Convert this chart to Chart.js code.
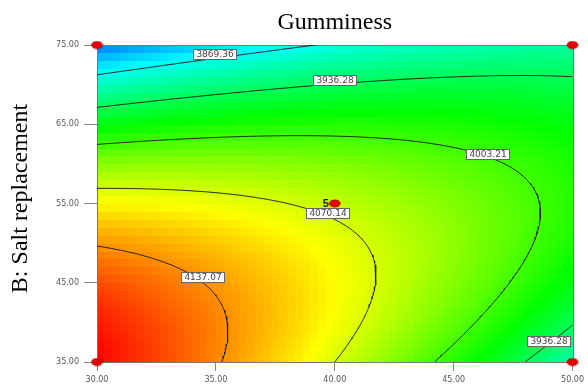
<!DOCTYPE html>
<html>
<head>
<meta charset="utf-8">
<title>Gumminess</title>
<script src="https://cdn.jsdelivr.net/npm/chart.js@4.4.0/dist/chart.umd.min.js"></script>
<style>
  html, body { margin: 0; padding: 0; background: #fff; }
  #wrap { width: 588px; height: 385px; }
</style>
</head>
<body>
<div id="wrap"><canvas id="chart" width="588" height="385"></canvas></div>
<script>
// Factor ranges (actual units)
const rangeA = [30, 50];               // A
const rangeB = [35, 75];               // B: Salt replacement
const tickA = [30, 35, 40, 45, 50];
const tickB = [35, 45, 55, 65, 75];

// Quadratic response model in coded units (-1..+1)
const modelTerms = ['Intercept', 'A', 'B', 'AB', 'A^2', 'B^2'];
const modelCoef  = [4061.1, -49.5, -98.2, 101.2, -20.6, -89.2];

// Response span covered by the colour map (blue .. red)
const colorRange = [3750, 4200];

// Contour levels and where their labels sit (A, B in actual units)
const contourLevels = [3869.36, 3936.28, 4003.21, 4070.14, 4137.07];
const labelLevel = [3869.36, 3936.28, 4003.21, 4070.14, 4137.07, 3936.28];
const labelA     = [34.96, 40.00, 46.46, 39.71, 34.46, 49.00];
const labelB     = [73.86, 70.58, 61.25, 53.80, 45.73, 37.65];

// Design points (factorial corners + replicated centre point)
const designA    = [30, 50, 30, 50, 40];
const designB    = [75, 75, 35, 35, 55];
const designReps = [1, 1, 1, 1, 5];

const chartTitle = 'Gumminess';
const yTitle = 'B: Salt replacement';

function gumminess(A, B) {
  const a = (A - (rangeA[0] + rangeA[1]) / 2) / ((rangeA[1] - rangeA[0]) / 2);
  const b = (B - (rangeB[0] + rangeB[1]) / 2) / ((rangeB[1] - rangeB[0]) / 2);
  const [b0, b1, b2, b12, b11, b22] = modelCoef;
  return b0 + b1 * a + b2 * b + b12 * a * b + b11 * a * a + b22 * b * b;
}

// Blue -> cyan -> green -> yellow -> red
const rampStops = [[0, 0, 255], [0, 255, 255], [0, 255, 0], [255, 255, 0], [255, 0, 0]];
function rampColor(t) {
  t = Math.max(0, Math.min(1, t));
  const s = t * (rampStops.length - 1);
  const i = Math.min(rampStops.length - 2, Math.floor(s));
  const f = s - i;
  const c0 = rampStops[i], c1 = rampStops[i + 1];
  return 'rgb(' + [0, 1, 2].map(k => Math.round(c0[k] + (c1[k] - c0[k]) * f)).join(',') + ')';
}

// Marching squares, chained into polylines
function traceContour(level, nx, ny) {
  const xs = [], ys = [], v = [];
  for (let i = 0; i <= nx; i++) xs.push(rangeA[0] + (rangeA[1] - rangeA[0]) * i / nx);
  for (let j = 0; j <= ny; j++) ys.push(rangeB[0] + (rangeB[1] - rangeB[0]) * j / ny);
  for (let i = 0; i <= nx; i++) { v.push([]); for (let j = 0; j <= ny; j++) v[i].push(gumminess(xs[i], ys[j])); }
  const pts = {}, adj = {};
  const cross = (key, x1, y1, v1, x2, y2, v2) => {
    if ((v1 >= level) === (v2 >= level)) return null;
    if (!pts[key]) {
      const f = (level - v1) / (v2 - v1);
      pts[key] = { x: x1 + (x2 - x1) * f, y: y1 + (y2 - y1) * f };
    }
    return key;
  };
  const link = (k1, k2) => {
    (adj[k1] = adj[k1] || []).push(k2);
    (adj[k2] = adj[k2] || []).push(k1);
  };
  for (let i = 0; i < nx; i++) {
    for (let j = 0; j < ny; j++) {
      const e = [
        cross('h' + i + ',' + j, xs[i], ys[j], v[i][j], xs[i + 1], ys[j], v[i + 1][j]),
        cross('v' + (i + 1) + ',' + j, xs[i + 1], ys[j], v[i + 1][j], xs[i + 1], ys[j + 1], v[i + 1][j + 1]),
        cross('h' + i + ',' + (j + 1), xs[i + 1], ys[j + 1], v[i + 1][j + 1], xs[i], ys[j + 1], v[i][j + 1]),
        cross('v' + i + ',' + j, xs[i], ys[j + 1], v[i][j + 1], xs[i], ys[j], v[i][j])
      ].filter(k => k !== null);
      if (e.length === 2) link(e[0], e[1]);
      else if (e.length === 4) { link(e[0], e[1]); link(e[2], e[3]); }
    }
  }
  const keys = Object.keys(adj);
  const starts = keys.filter(k => adj[k].length === 1).concat(keys);
  const seen = new Set(), lines = [];
  for (const s of starts) {
    if (seen.has(s)) continue;
    const line = [];
    let cur = s, prev = null;
    while (cur && !seen.has(cur)) {
      seen.add(cur);
      line.push(pts[cur]);
      const nxt = adj[cur].find(n => n !== prev && !seen.has(n));
      prev = cur; cur = nxt;
    }
    if (line.length > 1) lines.push(line);
  }
  return lines;
}

// Red ellipse used for design points
const marker = document.createElement('canvas');
marker.width = 13; marker.height = 9;
(function () {
  const g = marker.getContext('2d');
  g.beginPath();
  g.ellipse(6.5, 4.5, 5.5, 3.5, 0, 0, Math.PI * 2);
  g.fillStyle = '#e60000';
  g.fill();
  g.lineWidth = 1;
  g.strokeStyle = '#a80000';
  g.stroke();
})();

const datasets = [{
  label: 'Design points',
  data: designA.map((a, i) => ({ x: a, y: designB[i], reps: designReps[i] })),
  pointStyle: marker,
  pointRadius: 6,
  showLine: false,
  clip: false
}];
contourLevels.forEach(level => {
  traceContour(level, 160, 160).forEach(line => {
    datasets.push({
      label: level.toFixed(2),
      data: line,
      showLine: true,
      borderColor: 'rgba(20,20,20,0.9)',
      borderWidth: 1,
      pointRadius: 0,
      tension: 0
    });
  });
});

// Colour-filled surface drawn cell by cell behind the contours
const surfacePlugin = {
  id: 'surface',
  beforeDatasetsDraw(chart) {
    const { ctx, chartArea, scales: { x, y } } = chart;
    const nA = 60, nB = 40;
    const dA = (rangeA[1] - rangeA[0]) / nA, dB = (rangeB[1] - rangeB[0]) / nB;
    ctx.save();
    for (let i = 0; i < nA; i++) {
      for (let j = 0; j < nB; j++) {
        const a0 = rangeA[0] + i * dA, b0 = rangeB[0] + j * dB;
        const z = gumminess(a0 + dA / 2, b0 + dB / 2);
        const px0 = Math.floor(x.getPixelForValue(a0)), px1 = Math.ceil(x.getPixelForValue(a0 + dA));
        const py0 = Math.floor(y.getPixelForValue(b0 + dB)), py1 = Math.ceil(y.getPixelForValue(b0));
        ctx.fillStyle = rampColor((z - colorRange[0]) / (colorRange[1] - colorRange[0]));
        ctx.fillRect(px0, py0, px1 - px0, py1 - py0);
      }
    }
    ctx.strokeStyle = '#777';
    ctx.lineWidth = 1;
    ctx.strokeRect(Math.round(chartArea.left) + 0.5, Math.round(chartArea.top) + 0.5,
      Math.round(chartArea.right - chartArea.left), Math.round(chartArea.bottom - chartArea.top));
    ctx.restore();
  },
  afterDatasetsDraw(chart) {
    const { ctx, scales: { x, y } } = chart;
    ctx.save();
    ctx.font = '9px "DejaVu Sans"';
    ctx.textAlign = 'center';
    ctx.textBaseline = 'middle';
    labelLevel.forEach((lv, i) => {
      const t = lv.toFixed(2);
      const cx = Math.round(x.getPixelForValue(labelA[i]));
      const cy = Math.round(y.getPixelForValue(labelB[i]));
      const w = Math.ceil(ctx.measureText(t).width) + 6, h = 11;
      const lx = Math.round(cx - w / 2), ly = Math.round(cy - h / 2);
      ctx.fillStyle = '#fff';
      ctx.fillRect(lx, ly, w, h);
      ctx.strokeStyle = '#666';
      ctx.lineWidth = 1;
      ctx.strokeRect(lx + 0.5, ly + 0.5, w - 1, h - 1);
      ctx.fillStyle = '#444';
      ctx.fillText(t, cx, cy + 0.5);
    });
    // replicate count beside replicated design points
    ctx.font = 'bold 11px "Liberation Sans"';
    ctx.textAlign = 'right';
    ctx.fillStyle = '#222';
    designReps.forEach((r, i) => {
      if (r > 1) ctx.fillText(String(r), x.getPixelForValue(designA[i]) - 6, y.getPixelForValue(designB[i]));
    });
    ctx.restore();
  },
  // Chart title centred over the plot, and the rotated B-axis title
  afterDraw(chart) {
    const { ctx, chartArea } = chart;
    ctx.save();
    ctx.fillStyle = '#000';
    ctx.font = '24px "Liberation Serif"';
    ctx.textAlign = 'center';
    ctx.textBaseline = 'alphabetic';
    ctx.fillText(chartTitle, (chartArea.left + chartArea.right) / 2, chartArea.top - 16);
    ctx.translate(27, (chartArea.top + chartArea.bottom) / 2 - 5);
    ctx.rotate(-Math.PI / 2);
    ctx.fillText(yTitle, 0, 0);
    ctx.restore();
  }
};

const tickFont = { family: 'DejaVu Sans', size: 8 };

new Chart(document.getElementById('chart'), {
  type: 'scatter',
  data: { datasets },
  plugins: [surfacePlugin],
  options: {
    responsive: false,
    animation: false,
    devicePixelRatio: 1,
    layout: { padding: { left: 0, right: 11, top: 45, bottom: 0 } },
    plugins: {
      legend: { display: false },
      tooltip: { enabled: false },
      title: { display: false }
    },
    scales: {
      x: {
        type: 'linear',
        min: rangeA[0], max: rangeA[1],
        afterBuildTicks: s => { s.ticks = tickA.map(v => ({ value: v })); },
        afterFit: s => { s.height = 23; },
        ticks: { font: tickFont, color: '#555', padding: 4, maxRotation: 0, callback: v => Number(v).toFixed(2) },
        grid: { drawOnChartArea: false, tickLength: 9, color: '#888' },
        border: { color: '#777' }
      },
      y: {
        type: 'linear',
        min: rangeB[0], max: rangeB[1],
        afterBuildTicks: s => { s.ticks = tickB.map(v => ({ value: v })); },
        afterFit: s => { s.width = 97; },
        ticks: { font: tickFont, color: '#555', padding: 5, callback: v => Number(v).toFixed(2) },
        grid: { drawOnChartArea: false, tickLength: 13, color: '#888' },
        border: { color: '#777' }
      }
    }
  }
});
</script>
</body>
</html>
